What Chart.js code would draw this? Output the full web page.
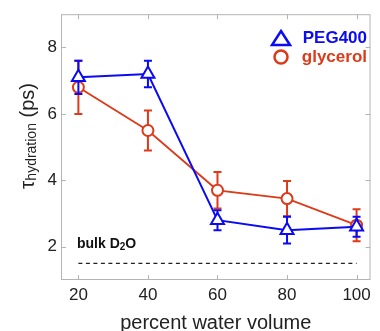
<!DOCTYPE html>
<html>
<head>
<meta charset="utf-8">
<script src="https://cdn.jsdelivr.net/npm/chart.js@4.4.0/dist/chart.umd.min.js"></script>
<style>
  html, body { margin: 0; padding: 0; background: #fff; }
</style>
</head>
<body>
<canvas id="hydrationChart" width="380" height="331"></canvas>
<script>
// data
const waterPct = [20, 40, 60, 80, 100];
const pegTau = [7.1, 7.2, 2.8, 2.5, 2.6];
const pegErr = [0.5, 0.4, 0.3, 0.4, 0.3];
const glyTau = [6.8, 5.5, 3.7, 3.45, 2.65];
const glyErr = [0.8, 0.6, 0.55, 0.53, 0.48];
const bulkX = [20, 100];
const bulkTau = 1.5;
const xTicks = [20, 40, 60, 80, 100];
const yTicks = [2, 4, 6, 8];

const BLUE = '#0a0af5';
const RED = '#dd3a1a';
const FRAME = '#b4b4b4';
const FONT = '"Liberation Sans", Helvetica, Arial, sans-serif';

// error bars, drawn right before each dataset
const errorBars = {
    id: 'errorBars',
    beforeDatasetDraw(chart, args) {
        const ds = chart.data.datasets[args.index];
        if (!ds.errors) return;
        const ctx = chart.ctx;
        const x = chart.scales.x, y = chart.scales.y;
        ctx.save();
        ctx.strokeStyle = ds.borderColor;
        ctx.lineWidth = 2;
        ds.data.forEach(function(p, i) {
            const px = x.getPixelForValue(p.x);
            const top = y.getPixelForValue(p.y + ds.errors[i]);
            const bot = y.getPixelForValue(p.y - ds.errors[i]);
            ctx.beginPath();
            ctx.moveTo(px, top); ctx.lineTo(px, bot);
            ctx.moveTo(px - 4, top); ctx.lineTo(px + 4, top);
            ctx.moveTo(px - 4, bot); ctx.lineTo(px + 4, bot);
            ctx.stroke();
        });
        ctx.restore();
    }
};

// box frame with inward ticks, y title, legend and bulk label
const decorations = {
    id: 'decorations',
    afterDraw(chart) {
        const ctx = chart.ctx;
        const a = chart.chartArea;
        const x = chart.scales.x, y = chart.scales.y;
        ctx.save();
        ctx.strokeStyle = FRAME;
        ctx.lineWidth = 1;
        ctx.strokeRect(a.left + 0.5, a.top + 0.5, a.right - a.left - 1, a.bottom - a.top - 1);
        ctx.beginPath();
        xTicks.forEach(function(v) {
            const px = Math.round(x.getPixelForValue(v)) + 0.5;
            ctx.moveTo(px, a.bottom); ctx.lineTo(px, a.bottom - 5);
            ctx.moveTo(px, a.top); ctx.lineTo(px, a.top + 5);
        });
        yTicks.forEach(function(v) {
            const py = Math.round(y.getPixelForValue(v)) + 0.5;
            ctx.moveTo(a.left, py); ctx.lineTo(a.left + 5, py);
            ctx.moveTo(a.right, py); ctx.lineTo(a.right - 5, py);
        });
        ctx.stroke();

        // y axis title: tau with subscript
        ctx.translate(34, 136);
        ctx.rotate(-Math.PI / 2);
        ctx.fillStyle = '#222';
        ctx.textBaseline = 'alphabetic';
        const parts = [
            { t: '\u03c4', f: '21px ' + FONT, dy: 0 },
            { t: 'hydration', f: '14px ' + FONT, dy: 2 },
            { t: ' (ps)', f: '20px ' + FONT, dy: 0 }
        ];
        let total = 0;
        parts.forEach(function(p) { ctx.font = p.f; p.w = ctx.measureText(p.t).width; total += p.w; });
        let cx = -total / 2;
        parts.forEach(function(p) { ctx.font = p.f; ctx.fillText(p.t, cx, p.dy); cx += p.w; });
        ctx.restore();

        // legend
        ctx.save();
        ctx.lineWidth = 2.5;
        ctx.strokeStyle = BLUE;
        ctx.beginPath();
        ctx.moveTo(281, 31); ctx.lineTo(290, 45); ctx.lineTo(272, 45); ctx.closePath();
        ctx.stroke();
        ctx.strokeStyle = RED;
        ctx.beginPath();
        ctx.arc(281, 57, 6.5, 0, Math.PI * 2);
        ctx.stroke();
        ctx.font = 'bold 17px ' + FONT;
        ctx.textAlign = 'right';
        ctx.textBaseline = 'middle';
        ctx.fillStyle = BLUE;
        ctx.fillText('PEG400', 367, 38);
        ctx.fillStyle = RED;
        ctx.fillText('glycerol', 367, 57);

        // bulk D2O label
        ctx.textAlign = 'left';
        ctx.textBaseline = 'alphabetic';
        ctx.fillStyle = '#111';
        ctx.font = 'bold 14px ' + FONT;
        let bx = 77;
        ctx.fillText('bulk D', bx, 248);
        bx += ctx.measureText('bulk D').width;
        ctx.font = 'bold 10px ' + FONT;
        ctx.fillText('2', bx, 250);
        bx += ctx.measureText('2').width;
        ctx.font = 'bold 14px ' + FONT;
        ctx.fillText('O', bx, 248);
        ctx.restore();
    }
};

const ctx = document.getElementById('hydrationChart').getContext('2d');
const hydrationChart = new Chart(ctx, {
    type: 'line',
    data: {
        datasets: [{
            label: 'PEG400',
            data: waterPct.map((v, i) => ({ x: v, y: pegTau[i] })),
            errors: pegErr,
            borderColor: BLUE,
            backgroundColor: '#fff',
            borderWidth: 2,
            pointStyle: 'triangle',
            pointRadius: 7.5,
            pointBorderWidth: 2,
            pointBackgroundColor: '#fff',
            tension: 0
        }, {
            label: 'glycerol',
            data: waterPct.map((v, i) => ({ x: v, y: glyTau[i] })),
            errors: glyErr,
            borderColor: RED,
            backgroundColor: '#fff',
            borderWidth: 1.8,
            pointStyle: 'circle',
            pointRadius: 5.5,
            pointBorderWidth: 2,
            pointBackgroundColor: '#fff',
            tension: 0
        }, {
            label: 'bulk D2O',
            data: bulkX.map(v => ({ x: v, y: bulkTau })),
            borderColor: '#222',
            borderWidth: 1.3,
            borderDash: [4, 3.5],
            pointRadius: 0
        }]
    },
    options: {
        responsive: false,
        animation: false,
        layout: { padding: { top: 14, right: 1, left: 0, bottom: 0 } },
        plugins: {
            legend: { display: false },
            tooltip: { enabled: false }
        },
        scales: {
            x: {
                type: 'linear',
                min: 15,
                max: 104,
                afterBuildTicks: s => { s.ticks = xTicks.map(v => ({ value: v })); },
                afterFit: s => { s.height = 51; },
                grid: { display: false, drawTicks: false },
                border: { display: false },
                ticks: {
                    padding: 5,
                    maxRotation: 0,
                    color: '#222',
                    font: { family: FONT, size: 17 }
                },
                title: {
                    display: true,
                    text: 'percent water volume',
                    color: '#222',
                    padding: { top: 0, bottom: -4 },
                    font: { family: FONT, size: 20 }
                }
            },
            y: {
                min: 1,
                max: 9,
                afterBuildTicks: s => { s.ticks = yTicks.map(v => ({ value: v })); },
                afterFit: s => { s.width = 61; },
                grid: { display: false, drawTicks: false },
                border: { display: false },
                ticks: {
                    padding: 4,
                    color: '#222',
                    font: { family: FONT, size: 17 }
                }
            }
        }
    },
    plugins: [errorBars, decorations]
});
</script>
</body>
</html>
